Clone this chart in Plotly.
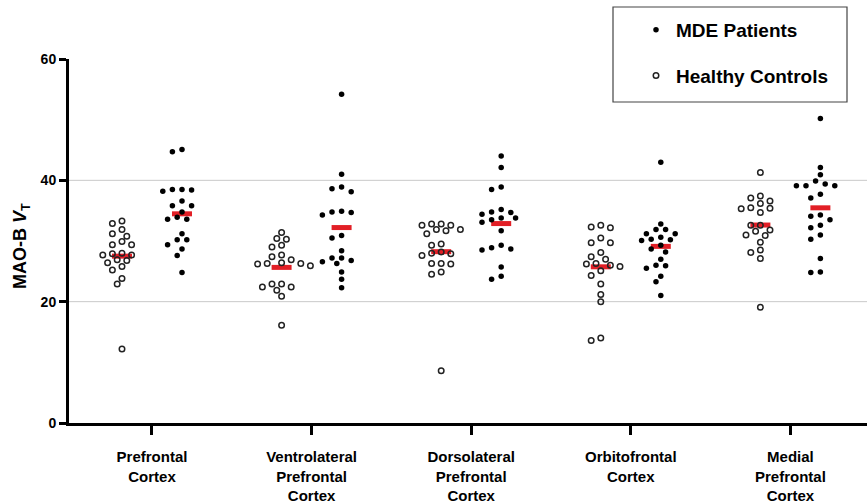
import plotly.graph_objects as go
import numpy as np

# ---------------- data ----------------
regions = ["Prefrontal<br>Cortex", "Ventrolateral<br>Prefrontal<br>Cortex",
           "Dorsolateral<br>Prefrontal<br>Cortex", "Orbitofrontal<br>Cortex",
           "Medial<br>Prefrontal<br>Cortex"]

pfc_hc = [33.3, 32.9, 31.9, 31.2, 30.8, 29.9, 29.4, 29.4, 28.0, 27.7, 27.7, 27.9, 26.9, 26.8, 26.4, 25.8, 25.2, 23.8, 22.9, 12.2]
pfc_mde = [45.1, 44.7, 38.5, 38.5, 38.4, 38.2, 36.6, 35.8, 35.8, 34.8, 33.9, 33.6, 33.6, 31.2, 30.2, 30.2, 29.4, 28.7, 27.6, 24.8]
vlpfc_hc = [31.4, 30.3, 30.4, 29.3, 29.0, 27.7, 27.4, 26.9, 26.4, 26.3, 26.2, 26.3, 25.9, 22.4, 22.4, 22.9, 22.9, 21.9, 20.9, 16.1]
vlpfc_mde = [54.2, 41.0, 38.9, 38.6, 38.1, 34.9, 34.3, 34.8, 34.7, 30.5, 30.9, 28.4, 27.2, 27.2, 26.8, 26.6, 26.3, 24.9, 23.7, 22.3]
dlpfc_hc = [32.6, 32.6, 32.8, 32.8, 31.9, 31.7, 31.9, 31.2, 29.5, 29.3, 28.2, 28.0, 27.9, 27.6, 26.3, 26.2, 26.3, 24.9, 24.5, 8.6]
dlpfc_mde = [44.0, 42.1, 38.9, 38.5, 35.2, 34.7, 34.8, 34.4, 33.8, 33.5, 33.1, 33.8, 31.7, 28.7, 28.5, 28.9, 29.3, 25.7, 24.2, 23.7]
ofc_hc = [32.6, 32.2, 32.3, 30.5, 29.7, 29.7, 28.1, 27.4, 27.0, 26.2, 26.0, 26.3, 25.8, 25.1, 24.3, 22.9, 21.2, 20.0, 14.0, 13.6]
ofc_mde = [43.0, 32.8, 31.9, 31.9, 31.2, 31.2, 30.6, 30.2, 30.1, 30.3, 29.3, 28.7, 28.2, 27.0, 25.9, 25.5, 26.0, 24.2, 23.3, 21.0]
mpfc_hc = [41.3, 37.1, 37.4, 36.6, 36.2, 35.4, 34.7, 35.5, 35.3, 32.6, 32.6, 31.8, 31.6, 30.9, 31.0, 29.8, 28.5, 28.1, 27.1, 19.1]
mpfc_mde = [50.2, 42.1, 40.9, 39.9, 39.4, 39.1, 39.1, 39.1, 37.7, 37.1, 34.3, 34.1, 33.5, 32.6, 32.2, 31.0, 30.3, 27.1, 24.9, 24.8]

controls = [pfc_hc, vlpfc_hc, dlpfc_hc, ofc_hc, mpfc_hc]
patients = [pfc_mde, vlpfc_mde, dlpfc_mde, ofc_mde, mpfc_mde]

y_ticks = [0, 20, 40, 60]
grid_vals = [20, 40]

# ---------------- geometry ----------------
W, H = 868, 503
ml, mr, mt, mb = 69, 1, 59, 80
xr = [-0.52, 4.48]
yr = [0, 60]
PW = W - ml - mr
PH = H - mt - mb
px_per_x = PW / (xr[1] - xr[0])
px_per_y = PH / (yr[1] - yr[0])
grp_off = 30 / px_per_x
slot = 4.8 / px_per_x
min_d = 7.2  # px


def swarm(vals, center):
    order = np.argsort(-np.array(vals))
    placed = []
    xs = [0.0] * len(vals)
    for idx in order:
        v = vals[idx]
        cands = [0]
        for k in range(1, 12):
            cands += [-k, k]
        for k in cands:
            ok = True
            for (pk, pv) in placed:
                dx = (k - pk) * slot * px_per_x
                dy = (v - pv) * px_per_y
                if dx * dx + dy * dy < min_d * min_d:
                    ok = False
                    break
            if ok:
                placed.append((k, v))
                xs[idx] = center + k * slot
                break
    return xs


fig = go.Figure()

# mean bars
for i in range(len(regions)):
    for vals, off in ((controls[i], -grp_off), (patients[i], grp_off)):
        m = float(np.mean(vals))
        c = i + off
        fig.add_trace(go.Scatter(x=[c - 10 / px_per_x, c + 10 / px_per_x], y=[m, m],
                                 mode="lines", line=dict(color="#e21f26", width=5),
                                 showlegend=False, hoverinfo="skip"))

mx, my, hx, hy = [], [], [], []
for i in range(len(regions)):
    hx += swarm(controls[i], i - grp_off)
    hy += controls[i]
    mx += swarm(patients[i], i + grp_off)
    my += patients[i]

fig.add_trace(go.Scatter(x=mx, y=my, mode="markers", name="MDE Patients",
                         legendgroup="mde",
                         marker=dict(symbol="circle", size=5.5, color="black")))
fig.add_trace(go.Scatter(x=hx, y=hy, mode="markers", name="Healthy Controls",
                         legendgroup="hc",
                         marker=dict(symbol="circle-open", size=5.5, color="#222",
                                     line=dict(width=1.5))))

for g in grid_vals:
    fig.add_shape(type="line", xref="paper", yref="y", x0=0, x1=1, y0=g, y1=g,
                  line=dict(color="#c9c9c9", width=1), layer="below")

# legend box
fig.add_shape(type="rect", xref="paper", yref="paper",
              x0=(613 - ml) / PW, x1=(847 - ml) / PW,
              y0=(H - mb - 102) / PH, y1=(H - mb - 7) / PH,
              line=dict(color="#444", width=1.2))

fig.add_annotation(text="MAO-B <i>V</i><sub>T</sub>", textangle=-90,
                   xref="paper", yref="paper", x=(22 - ml) / PW, xanchor="center",
                   y=(H - mb - 246) / PH, yanchor="middle", showarrow=False,
                   font=dict(size=18, color="black", weight="bold"))

fig.update_layout(
    width=W, height=H,
    margin=dict(l=ml, r=mr, t=mt, b=mb, autoexpand=False),
    paper_bgcolor="white", plot_bgcolor="white",
    font=dict(family="Liberation Sans, Arial, sans-serif", color="black", weight="bold"),
    showlegend=True,
    legend=dict(x=(636 - ml) / PW, y=(H - mb - 11) / PH,
                xanchor="left", yanchor="top", bgcolor="rgba(0,0,0,0)",
                font=dict(size=19, weight="bold"), traceorder="grouped",
                tracegroupgap=18),
    xaxis=dict(range=xr, tickmode="array", tickvals=list(range(len(regions))),
               ticktext=regions, showgrid=False, zeroline=False, automargin=False,
               showline=True, linecolor="black", linewidth=3,
               ticks="outside", ticklen=9, tickwidth=3, tickcolor="black",
               tickfont=dict(size=15, weight="bold"), ticklabelstandoff=9),
    yaxis=dict(range=yr, tickmode="array", tickvals=y_ticks, showgrid=False,
               zeroline=False, showline=True, linecolor="black", linewidth=3,
               automargin=False,
               ticks="outside", ticklen=7, tickwidth=3, tickcolor="black",
               tickfont=dict(size=14, weight="bold")),
)

fig.write_html("out.html")
